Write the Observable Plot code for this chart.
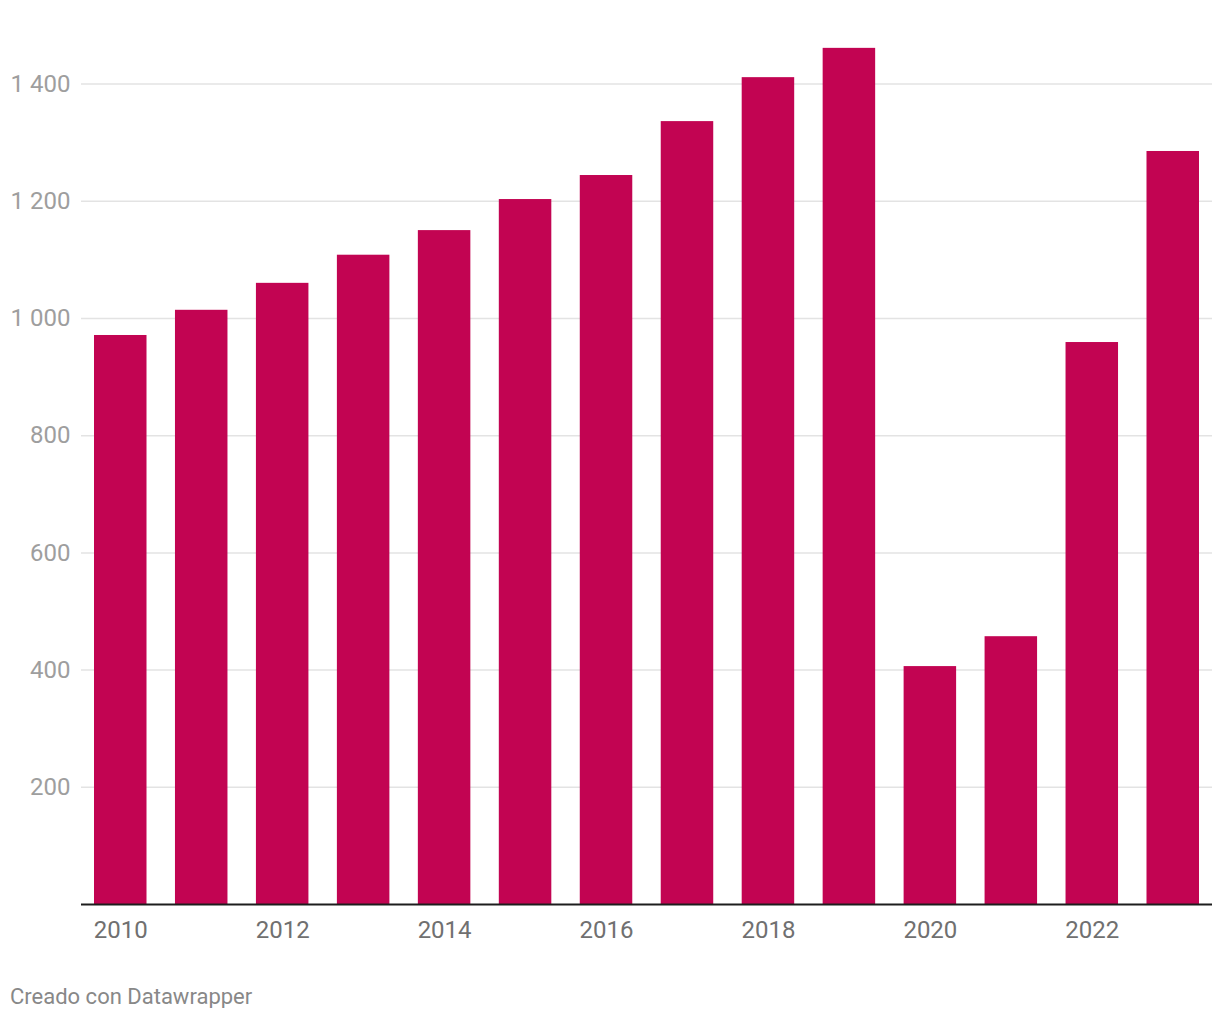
<!DOCTYPE html>
<html>
<head>
<meta charset="utf-8">
<script src="https://cdn.jsdelivr.net/npm/d3@7"></script>
<script src="https://cdn.jsdelivr.net/npm/@observablehq/plot@0.6"></script>
<style>
  body { margin: 0; background: #fff; font-family: Roboto, sans-serif; }
  #chart svg { display: block; }
  #footer { font-family: Roboto, sans-serif; font-size: 22px; color: #888; line-height: 22px; padding: 36px 0 0 10px; }
</style>
</head>
<body>
<div id="chart"></div>
<div id="footer">Creado con Datawrapper</div>
<script>
const years = [2010, 2011, 2012, 2013, 2014, 2015, 2016, 2017, 2018, 2019, 2020, 2021, 2022, 2023];
const values = [971, 1014, 1060, 1108, 1150, 1203, 1244, 1336, 1411, 1461, 406, 457, 959, 1285];
const yTicks = [200, 400, 600, 800, 1000, 1200, 1400];
const xTickYears = [2010, 2012, 2014, 2016, 2018, 2020, 2022];

const data = years.map((y, i) => ({year: y, value: values[i]}));
const fmt = d3.formatLocale({decimal: ",", thousands: " ", grouping: [3], currency: ["", ""]}).format(",d");

const chart = Plot.plot({
  width: 1220,
  height: 950,
  marginLeft: 81,
  marginRight: 8,
  marginTop: 25,
  marginBottom: 46,
  style: {fontFamily: "Roboto, sans-serif", background: "#fff"},
  x: {type: "band", domain: years, paddingInner: 0.3515, paddingOuter: 0.1606, round: false},
  y: {domain: [0, 1500]},
  marks: [
    Plot.ruleY(yTicks, {stroke: "#e3e3e3", strokeWidth: 1.5}),
    Plot.barY(data, {x: "year", y: "value", fill: "#c20452"}),
    Plot.ruleY([0], {stroke: "#1d1d1d", strokeWidth: 2}),
    Plot.axisY(yTicks, {tickSize: 0, tickPadding: 11, tickFormat: fmt, fontSize: 24, fill: "#9e9e9e", label: null}),
    Plot.axisX(xTickYears, {tickSize: 0, tickPadding: 16, tickFormat: d => String(d), fontSize: 24, fill: "#707070", label: null})
  ]
});
document.getElementById("chart").appendChild(chart);
</script>
</body>
</html>
